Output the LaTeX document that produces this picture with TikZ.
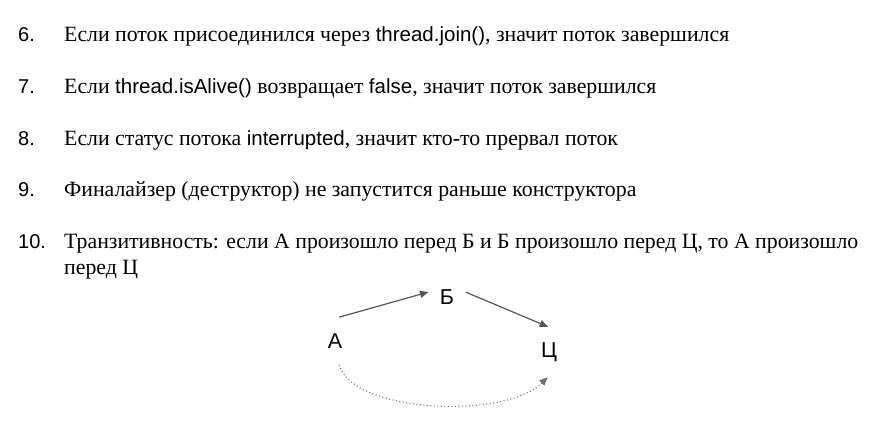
\documentclass[tikz,border=0pt]{standalone}
\usepackage{fontspec}
\setmainfont{Liberation Serif}
\newfontfamily\codefont{Liberation Sans}
\usetikzlibrary{arrows.meta}
\definecolor{arrowgray}{HTML}{555555}
\definecolor{dotgray}{HTML}{707070}

\begin{document}
\begin{tikzpicture}[x=1pt,y=1pt,
  num/.style={anchor=base west, inner sep=0pt, font=\codefont\fontsize{20}{24}\selectfont},
  item/.style={anchor=base west, inner sep=0pt, font=\fontsize{21.8}{26}\selectfont},
  event/.style={circle, inner sep=0pt, font=\codefont\fontsize{21.5}{26}\selectfont},
  arrow/.style={-{Triangle[length=8.5pt,width=7pt]}, line width=1.2pt, arrowgray},
  later/.style={-{Triangle[length=8.5pt,width=7pt]}, line width=1.1pt, dotgray, dash pattern=on 1pt off 2.5pt}
]
  \useasboundingbox (0,0) rectangle (885,425);

  % list
  \newcommand{\cw}[1]{{\codefont\fontsize{20.5}{24}\selectfont #1}}
  \node[num] (n6) at (18,383) {6.};
  \node[item] (t6) at (64,383) {Если поток присоединился через \cw{thread.join()}, значит поток завершился};
  \node[num] (n7) at (18,331) {7.};
  \node[item] (t7) at (64,331) {Если \cw{thread.isAlive()} возвращает \cw{false}, значит поток завершился};
  \node[num] (n8) at (18,279) {8.};
  \node[item] (t8) at (64,279) {Если статус потока \cw{interrupted}, значит кто-то прервал поток};
  \node[num] (n9) at (18,228) {9.};
  \node[item] (t9) at (64,228) {Финалайзер (деструктор) не запустится раньше конструктора};
  \node[num] (n10) at (18,176) {10.};
  \node[item] (t10) at (64,176) {Транзитивность: если А произошло перед Б и Б произошло перед Ц, то А произошло};
  \node[item] (t10b) at (64,150) {перед Ц};

  % events
  \node[event, minimum size=48pt] (A) at (335,84) {А};
  \node[event, minimum size=38pt] (B) at (447,128) {Б};
  \node[event, minimum size=50pt] (C) at (549,73) {Ц};

  \draw[arrow] (A.80) -- (B.165);
  \draw[arrow] (B.15) -- (C.92);
  \draw[later] (A.-80) .. controls +(-75:50) and +(-135:60) .. (C.-93);
\end{tikzpicture}
\end{document}
